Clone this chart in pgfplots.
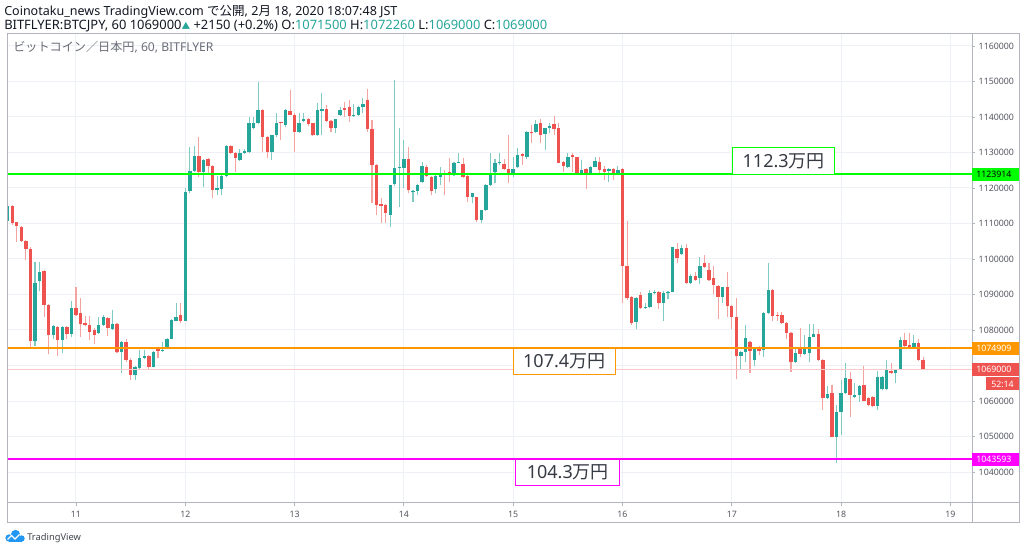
\documentclass[border=0pt]{standalone}
\usepackage{pgfplots}
\usepackage{pgfplotstable}
\pgfplotsset{compat=1.18}
\usepackage{fontspec}
\setmainfont{Noto Sans}
\newfontfamily\cjk{Noto Sans CJK JP}
\definecolor{up}{HTML}{26A69A}
\definecolor{dn}{HTML}{EF5350}
\definecolor{upw}{HTML}{7FCBC3}
\definecolor{dnw}{HTML}{F4A3A1}
\definecolor{gridc}{HTML}{EDF0F5}
\definecolor{frame}{HTML}{B2B5BE}
\definecolor{txt}{HTML}{131722}
\definecolor{gtxt}{HTML}{6A6D78}
\definecolor{lvlg}{HTML}{00FF00}
\definecolor{lvlo}{HTML}{FF9800}
\definecolor{lvlm}{HTML}{FF00FF}
\definecolor{curr}{HTML}{F7C9C8}
\definecolor{tvblue}{HTML}{2196F3}

\pgfplotstableread{
i o h l c
0 1110.8 1116.3 1110.8 1114.9
1 1114.9 1115.2 1109.7 1110.2
2 1110.3 1110.5 1104.8 1109.4
3 1108.9 1109.2 1104.9 1105.1
4 1105.1 1105.3 1099.7 1102.9
5 1102.9 1103.4 1075.3 1076.9
6 1077.0 1099.2 1075.6 1093.1
7 1093.9 1099.2 1090.9 1096.4
8 1096.7 1097.0 1083.7 1087.1
9 1087.1 1087.3 1073.1 1078.7
10 1078.7 1081.5 1077.6 1081.1
11 1080.9 1081.2 1072.8 1077.3
12 1077.3 1081.2 1073.4 1080.9
13 1080.9 1081.2 1077.6 1079.0
14 1079.0 1088.1 1078.0 1086.2
15 1086.2 1092.2 1084.0 1084.3
16 1084.7 1088.9 1078.0 1081.6
17 1082.1 1083.9 1081.0 1081.3
18 1081.3 1083.9 1077.1 1079.5
19 1080.0 1080.5 1076.0 1078.6
20 1079.2 1083.7 1079.0 1081.4
21 1081.4 1084.2 1081.0 1083.7
22 1083.4 1083.7 1078.4 1080.7
23 1080.4 1085.6 1080.0 1081.6
24 1081.6 1082.0 1073.4 1073.9
25 1073.9 1076.8 1067.8 1076.7
26 1076.7 1077.4 1071.0 1071.5
27 1071.5 1072.0 1065.9 1067.3
28 1067.3 1069.9 1065.9 1069.7
29 1069.2 1074.3 1069.0 1072.0
30 1072.0 1074.3 1071.8 1072.7
31 1072.7 1073.0 1068.7 1069.7
32 1069.7 1074.1 1069.5 1073.9
33 1074.8 1075.0 1072.0 1074.1
34 1074.1 1076.7 1073.9 1074.5
35 1074.8 1077.8 1074.6 1077.6
36 1077.6 1083.0 1077.4 1082.8
37 1082.6 1087.5 1082.4 1083.7
38 1084.2 1087.5 1081.9 1082.6
39 1082.6 1119.9 1082.4 1118.9
40 1119.2 1131.6 1118.5 1124.8
41 1124.8 1131.8 1124.6 1129.0
42 1129.0 1134.5 1123.2 1124.6
43 1124.6 1128.1 1120.4 1127.9
44 1128.2 1128.4 1124.1 1126.3
45 1126.2 1126.4 1117.1 1119.4
46 1119.4 1123.4 1118.0 1120.1
47 1119.6 1123.6 1118.0 1123.4
48 1123.4 1132.1 1123.2 1131.9
49 1131.9 1132.1 1129.7 1129.9
50 1129.9 1130.1 1124.6 1128.4
51 1127.9 1130.9 1127.7 1129.8
52 1129.8 1131.0 1129.6 1130.4
53 1130.0 1140.1 1129.8 1138.2
54 1137.0 1140.1 1136.5 1138.4
55 1138.4 1149.9 1138.0 1142.0
56 1142.0 1142.2 1130.2 1134.5
57 1134.5 1134.7 1128.4 1130.2
58 1130.2 1135.0 1127.9 1134.9
59 1134.9 1141.2 1134.5 1138.2
60 1138.5 1138.7 1133.5 1138.2
61 1137.7 1142.2 1137.1 1142.0
62 1141.8 1147.6 1140.6 1140.7
63 1140.7 1141.0 1130.2 1135.9
64 1135.9 1141.2 1135.5 1138.2
65 1138.9 1141.0 1138.5 1139.3
66 1139.3 1139.6 1137.5 1138.0
67 1138.2 1138.4 1134.7 1134.9
68 1134.9 1144.0 1134.7 1142.0
69 1141.8 1146.7 1134.9 1142.2
70 1142.2 1143.4 1138.7 1138.9
71 1138.9 1139.2 1135.9 1136.8
72 1136.8 1139.5 1135.4 1139.4
73 1140.6 1142.9 1140.3 1142.0
74 1142.4 1144.3 1140.1 1141.9
75 1142.7 1144.8 1138.7 1140.3
76 1140.3 1143.8 1140.0 1140.6
77 1140.6 1143.1 1140.3 1142.7
78 1142.7 1145.3 1141.0 1143.8
79 1144.8 1147.8 1135.9 1136.5
80 1136.5 1139.2 1115.7 1126.5
81 1126.5 1126.7 1112.4 1115.2
82 1115.4 1117.1 1110.0 1114.9
83 1115.2 1115.5 1110.2 1112.9
84 1112.4 1120.9 1109.1 1120.8
85 1121.1 1150.4 1120.5 1125.5
86 1125.5 1136.8 1114.7 1125.8
87 1125.7 1133.5 1119.9 1128.1
88 1128.1 1131.5 1118.5 1119.4
89 1118.8 1119.4 1116.1 1119.2
90 1119.2 1121.0 1118.0 1120.8
91 1121.8 1127.4 1121.5 1126.2
92 1126.0 1126.5 1123.2 1123.4
93 1123.0 1123.3 1118.0 1119.2
94 1119.6 1123.6 1118.5 1123.4
95 1123.0 1126.0 1120.8 1124.3
96 1124.1 1125.1 1118.0 1123.7
97 1124.5 1128.4 1121.8 1124.0
98 1123.9 1127.3 1123.5 1127.1
99 1127.1 1129.9 1126.9 1127.4
100 1126.8 1128.4 1122.8 1123.0
101 1123.4 1123.6 1116.1 1117.4
102 1117.4 1118.6 1115.7 1118.5
103 1117.4 1117.6 1110.5 1111.0
104 1111.0 1113.9 1110.0 1113.8
105 1113.8 1121.0 1113.5 1120.8
106 1120.8 1129.9 1120.5 1124.3
107 1124.6 1128.1 1121.3 1127.1
108 1126.9 1129.9 1126.5 1127.4
109 1126.9 1128.1 1125.0 1125.3
110 1125.4 1134.9 1121.3 1124.1
111 1124.1 1128.8 1123.2 1125.3
112 1125.8 1131.2 1125.5 1129.3
113 1129.6 1129.8 1126.5 1129.0
114 1128.6 1136.1 1128.3 1135.9
115 1135.9 1137.7 1132.8 1135.6
116 1135.9 1139.2 1135.6 1138.0
117 1138.4 1139.3 1132.6 1134.9
118 1135.2 1136.9 1130.7 1136.8
119 1136.8 1138.2 1135.4 1137.5
120 1138.0 1140.3 1134.9 1136.5
121 1136.8 1138.2 1126.9 1127.1
122 1127.4 1127.6 1124.6 1126.2
123 1125.8 1129.8 1125.5 1128.6
124 1129.3 1129.8 1124.6 1128.6
125 1128.6 1128.8 1123.9 1124.1
126 1124.1 1127.9 1123.9 1125.1
127 1125.3 1125.5 1119.7 1124.1
128 1124.1 1126.2 1123.8 1126.0
129 1126.0 1128.8 1125.8 1127.6
130 1127.4 1128.6 1124.1 1125.1
131 1125.3 1126.2 1122.3 1124.6
132 1124.9 1125.5 1121.8 1125.3
133 1125.3 1125.5 1122.3 1124.3
134 1124.1 1126.2 1124.0 1125.1
135 1125.3 1125.5 1087.7 1098.0
136 1098.0 1110.7 1088.5 1088.9
137 1089.2 1089.5 1081.5 1081.9
138 1082.3 1089.2 1080.2 1088.9
139 1089.9 1090.8 1086.0 1086.1
140 1086.1 1087.5 1086.0 1086.6
141 1086.4 1091.3 1086.2 1090.5
142 1090.3 1091.3 1090.0 1090.8
143 1090.8 1091.0 1086.0 1087.5
144 1087.7 1091.0 1082.6 1090.5
145 1090.3 1091.0 1088.6 1090.8
146 1090.8 1103.5 1090.6 1103.3
147 1102.7 1104.4 1099.0 1100.2
148 1101.4 1103.9 1101.2 1103.0
149 1103.0 1104.2 1093.0 1093.2
150 1093.2 1095.7 1093.0 1095.3
151 1095.3 1096.4 1093.9 1094.1
152 1094.6 1100.7 1092.9 1098.0
153 1098.8 1101.1 1097.5 1097.7
154 1096.9 1098.8 1093.9 1094.1
155 1094.7 1098.0 1090.1 1092.7
156 1092.4 1092.6 1083.0 1089.4
157 1089.4 1092.2 1087.5 1092.0
158 1092.0 1096.2 1083.6 1086.8
159 1086.8 1087.0 1080.2 1083.6
160 1083.6 1088.9 1066.1 1072.7
161 1072.8 1074.0 1068.7 1073.7
162 1073.7 1081.4 1071.1 1077.8
163 1076.7 1077.0 1067.8 1074.2
164 1071.5 1074.8 1069.9 1074.6
165 1074.6 1075.4 1073.0 1074.2
166 1074.4 1085.1 1072.5 1084.9
167 1084.9 1099.0 1084.5 1091.3
168 1091.3 1091.5 1082.6 1083.9
169 1084.2 1085.0 1082.6 1083.9
170 1084.2 1085.0 1081.7 1081.9
171 1081.9 1082.2 1077.4 1079.1
172 1079.1 1079.3 1068.3 1071.1
173 1071.1 1075.3 1070.8 1073.6
174 1075.3 1080.5 1072.5 1073.2
175 1073.2 1078.6 1073.0 1074.8
176 1073.4 1081.7 1071.1 1078.1
177 1078.1 1081.7 1077.9 1078.8
178 1078.8 1080.2 1071.3 1071.5
179 1071.5 1071.7 1057.5 1060.8
180 1060.8 1064.2 1060.5 1062.0
181 1062.2 1064.5 1049.8 1050.0
182 1050.0 1058.9 1042.4 1057.0
183 1057.0 1065.9 1050.4 1062.2
184 1062.2 1070.8 1062.0 1066.4
185 1066.2 1068.3 1055.6 1061.7
186 1061.0 1065.0 1060.8 1061.7
187 1061.7 1064.5 1059.8 1064.3
188 1064.5 1069.9 1060.0 1060.1
189 1060.8 1061.0 1058.5 1058.9
190 1061.0 1061.3 1058.2 1058.6
191 1058.6 1068.5 1057.5 1066.7
192 1063.3 1067.0 1063.0 1066.9
193 1063.3 1071.5 1063.0 1068.9
194 1068.5 1070.8 1067.6 1067.8
195 1067.8 1069.1 1065.0 1068.9
196 1068.9 1078.1 1068.7 1077.2
197 1077.2 1079.1 1075.3 1075.5
198 1075.8 1079.1 1075.0 1075.3
199 1075.3 1078.6 1075.0 1076.2
200 1076.2 1077.4 1071.4 1071.5
201 1071.5 1072.3 1069.0 1069.0
}\candles

\begin{document}
\begin{tikzpicture}
\useasboundingbox[fill=white] (0pt,0pt) rectangle (768pt,414pt);
\begin{axis}[
  at={(5.25pt,36.75pt)}, anchor=south west,
  scale only axis, width=723.75pt, height=351.75pt,
  xmin=-0.15, xmax=211.75, ymin=1031.27, ymax=1163.38,
  axis line style={frame, line width=0.75pt},
  xtick={15,39,63,87,111,135,159,183,207},
  xticklabels={11,12,13,14,15,16,17,18,19},
  ytick={1040,1050,1060,1070,1080,1090,1100,1110,1120,1130,1140,1150,1160},
  yticklabels={1040000,1050000,1060000,{},1080000,1090000,1100000,1110000,1120000,1130000,1140000,1150000,1160000},
  xtick pos=bottom, ytick pos=right, yticklabel pos=right,
  tick align=outside, major tick length=2.5pt,
  tick style={frame, line width=0.6pt},
  ticklabel style={font=\fontsize{6.6}{8}\selectfont, text=gtxt!80!black},
  yticklabel style={xshift=-1pt},
  grid=major, major grid style={gridc, line width=0.75pt},
  candle/.style={only marks, mark=none, mark size=0pt, mark options={draw=none, fill=none},
     restrict y to domain=1000:1300},
]
% wicks
\addplot[candle,
  error bars/.cd, y dir=plus, y explicit, error mark=none,
  error bar style={draw=upw, line width=0.8pt}]
  table[x=i, y expr={\thisrow{c}>=\thisrow{o} ? \thisrow{l} : -1},
        y error plus expr={\thisrow{h}-\thisrow{l}}] {\candles};
\addplot[candle,
  error bars/.cd, y dir=plus, y explicit, error mark=none,
  error bar style={draw=dnw, line width=0.8pt}]
  table[x=i, y expr={\thisrow{c}<\thisrow{o} ? \thisrow{l} : -1},
        y error plus expr={\thisrow{h}-\thisrow{l}}] {\candles};
% bodies
\addplot[candle,
  error bars/.cd, y dir=plus, y explicit, error mark=none,
  error bar style={draw=up, line width=2.55pt}]
  table[x=i, y expr={\thisrow{c}>=\thisrow{o} ? \thisrow{o} : -1},
        y error plus expr={max(\thisrow{c}-\thisrow{o},0.25)}] {\candles};
\addplot[candle,
  error bars/.cd, y dir=plus, y explicit, error mark=none,
  error bar style={draw=dn, line width=2.55pt}]
  table[x=i, y expr={\thisrow{c}<\thisrow{o} ? \thisrow{c} : -1},
        y error plus expr={max(\thisrow{o}-\thisrow{c},0.25)}] {\candles};
% level lines
\addplot[curr, line width=0.75pt] coordinates {(-0.15,1069.0) (211.75,1069.0)};
\addplot[lvlg, line width=1.5pt] coordinates {(-0.15,1123.914) (211.75,1123.914)};
\addplot[lvlo, line width=1.5pt] coordinates {(-0.15,1074.909) (211.75,1074.909)};
\addplot[lvlm, line width=1.5pt] coordinates {(-0.15,1043.593) (211.75,1043.593)};
% annotation boxes
\node[draw=lvlg, fill=white, line width=0.75pt, minimum width=76.2pt, minimum height=20.2pt, inner sep=0pt, font=\fontsize{13.5}{15}\selectfont, text=txt!85] at (axis cs:170.4,1127.66) {112.3{\cjk 万円}};
\node[draw=lvlo, fill=white, line width=0.75pt, minimum width=76.5pt, minimum height=19pt, inner sep=0pt, font=\fontsize{13.5}{15}\selectfont, text=txt!85] at (axis cs:122.2,1071.1) {107.4{\cjk 万円}};
\node[draw=lvlm, fill=white, line width=0.75pt, minimum width=78pt, minimum height=19.5pt, inner sep=0pt, font=\fontsize{13.5}{15}\selectfont, text=txt!85] at (axis cs:123.0,1040.0) {104.3{\cjk 万円}};
\end{axis}
\begin{scope}[x=0.75pt, y=-0.75pt, shift={(0pt,414pt)}]
% outer frame
\draw[frame, line width=0.75pt] (7,34) rectangle (1019,523);
\draw[frame, line width=0.75pt] (7,503) -- (1019,503);
\draw[frame, line width=0.75pt] (972,34) -- (972,523);
% right price labels
\begin{scope}[font=\fontsize{6.6}{8}\selectfont]
\fill[lvlg] (972,167.6) rectangle (1019,180.6);
\node[anchor=west, text=black, inner sep=0pt] at (976,174.1) {1123914};
\fill[lvlo] (972,341.6) rectangle (1019,354.6);
\node[anchor=west, text=white, inner sep=0pt] at (976,348.1) {1074909};
\fill[dn] (972,362.6) rectangle (1019,375.8);
\node[anchor=west, text=white, inner sep=0pt] at (976,369.2) {1069000};
\fill[dn] (986,377.3) rectangle (1019,390.5);
\node[anchor=west, text=white, inner sep=0pt] at (991,383.9) {52:14};
\fill[lvlm] (972,452.7) rectangle (1019,465.7);
\node[anchor=west, text=white, inner sep=0pt] at (976,459.2) {1043593};
\end{scope}
% header
\node[anchor=base west, inner sep=0pt, text=txt, font=\fontsize{9.4}{11}\selectfont] at (4,15.5) {Coinotaku\_news TradingView.com {\cjk で公開}, 2{\cjk 月} 18, 2020 18:07:48 JST};
\node[anchor=base west, inner sep=0pt, text=txt, font=\fontsize{9.7}{11}\selectfont] at (4,29.5) {BITFLYER:BTCJPY, 60 1069000\textcolor{up}{\cjk\fontsize{6.5}{7}\selectfont ▲} +2150 (+0.2\%) O:\textcolor{up}{1071500} H:\textcolor{up}{1072260} L:\textcolor{up}{1069000} C:\textcolor{up}{1069000}};
\node[anchor=base west, inner sep=0pt, text=gtxt, font=\fontsize{9.1}{10}\selectfont] at (13,51.5) {{\cjk ビットコイン／日本円}, 60, BITFLYER};
% TradingView logo
\fill[tvblue] (9,538) circle (3.6) (15.5,534.5) circle (4.6) (21.5,538.5) circle (3.2);
\fill[tvblue] (9,538) rectangle (21.5,541.7);
\draw[white, line width=0.9pt] (7.5,539.5) -- (11.5,535.5) -- (15,539) -- (19.5,534.5);
\node[anchor=west, inner sep=0pt, text=txt!80, font=\fontsize{7}{8}\selectfont] at (27,538) {TradingView};
\end{scope}
\end{tikzpicture}
\end{document}
